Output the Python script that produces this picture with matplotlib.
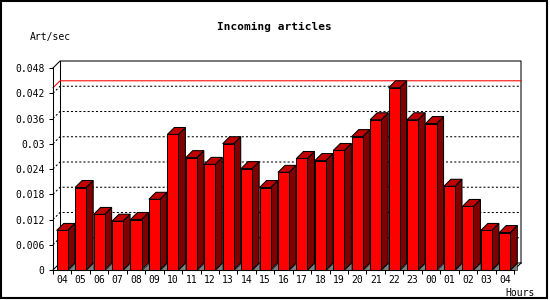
import numpy as np
import matplotlib
matplotlib.use("Agg")
import matplotlib.pyplot as plt
from matplotlib.patches import Polygon, Rectangle

plt.rcParams['font.family'] = ['DejaVu Sans Mono']

hours = ["04", "05", "06", "07", "08", "09", "10", "11", "12", "13", "14", "15",
         "16", "17", "18", "19", "20", "21", "22", "23", "00", "01", "02", "03", "04"]
rate = [0.0094, 0.0196, 0.0132, 0.0116, 0.0120, 0.0168, 0.0322, 0.0267, 0.0251,
        0.0300, 0.0241, 0.0196, 0.0232, 0.0265, 0.0260, 0.0284, 0.0317, 0.0357,
        0.0433, 0.0357, 0.0348, 0.0199, 0.0151, 0.0094, 0.0089]
y_ticks = [0, 0.006, 0.012, 0.018, 0.024, 0.03, 0.036, 0.042, 0.048]
y_labels = ["0", "0.006", "0.012", "0.018", "0.024", "0.03", "0.036", "0.042", "0.048"]

peak = max(rate)
ymax = 0.048
n = len(rate)

fig = plt.figure(figsize=(5.5, 3.0), dpi=100)
W, H = 550, 300
box = (53, 30, 461, 202)   # front plane in pixels: left, bottom, width, height
ax = fig.add_axes([box[0] / W, box[1] / H, box[2] / W, box[3] / H])
ax.set_xlim(-0.5, n - 0.5)
ax.set_ylim(0, ymax)
ax.patch.set_visible(False)

# 3d depth, 7 px right and up
depth = 7
dx = depth / box[2] * n
dy = depth / box[3] * ymax
lw = 0.75
x0, x1 = -0.5, n - 0.5

# back wall
ax.plot([x0, x0 + dx, x1 + dx, x1 + dx], [ymax, ymax + dy, ymax + dy, dy],
        c="black", lw=lw, clip_on=False, zorder=1)
ax.plot([x0 + dx, x0 + dx], [dy, ymax + dy], c="black", lw=lw, clip_on=False, zorder=1)
ax.plot([x0, x0 + dx, x1 + dx], [0, dy, dy], c="black", lw=lw, clip_on=False, zorder=1)
ax.plot([x1, x1 + dx], [0, dy], c="black", lw=lw, clip_on=False, zorder=1)
for t in y_ticks[1:-1]:
    ax.plot([x0, x0 + dx, x1 + dx], [t, t + dy, t + dy], c="black", lw=lw,
            ls=(0, (2, 2)), clip_on=False, zorder=1)
# peak line
ax.plot([x0, x0 + dx, x1 + dx], [peak, peak + dy, peak + dy], c="red", lw=lw,
        clip_on=False, zorder=1.5)

# bars
w = 0.6
for i, v in enumerate(rate):
    l, r = i - w / 2, i + w / 2
    ax.add_patch(Polygon([(r, 0), (r + dx, 0), (r + dx, dy)], closed=True,
                         fc="#808080", ec="black", lw=0.4, clip_on=False, zorder=2))
    ax.add_patch(Polygon([(r, 0), (r + dx, dy), (r + dx, v + dy), (r, v)], closed=True,
                         fc="#800000", ec="black", lw=lw, clip_on=False, zorder=2))
    ax.add_patch(Polygon([(l, v), (r, v), (r + dx, v + dy), (l + dx, v + dy)], closed=True,
                         fc="#c00000", ec="black", lw=lw, clip_on=False, zorder=2))
    ax.add_patch(Rectangle((l, 0), w, v, fc="#ff0000", ec="black", lw=lw,
                           clip_on=False, zorder=2))

for s in ["top", "right"]:
    ax.spines[s].set_visible(False)
for s in ["left", "bottom"]:
    ax.spines[s].set_linewidth(lw)
    ax.spines[s].set_zorder(3)

ax.set_yticks(y_ticks)
ax.set_yticklabels(y_labels)
ax.set_xticks(np.arange(n))
ax.set_xticklabels(hours)
ax.set_xticks(np.arange(n + 1) - 0.5, minor=True)
ax.tick_params(axis="y", length=3, width=lw, pad=3, labelsize=7)
ax.tick_params(axis="x", which="major", length=0, pad=3.5, labelsize=7)
ax.tick_params(axis="x", which="minor", length=3, width=lw)

fig.text(274 / W, 1 - 27 / H, "Incoming articles", ha="center", va="center",
         fontsize=8, fontweight="bold")
fig.text(30 / W, 1 - 37 / H, "Art/sec", ha="left", va="center", fontsize=7)
fig.text(505 / W, 1 - 293 / H, "Hours", ha="left", va="center", fontsize=7)

fig.patches.append(Rectangle((1 / W, 2 / H), 546 / W, 297 / H, transform=fig.transFigure,
                             fill=False, ec="black", lw=1.5))

fig.savefig("out.png", dpi=100)
